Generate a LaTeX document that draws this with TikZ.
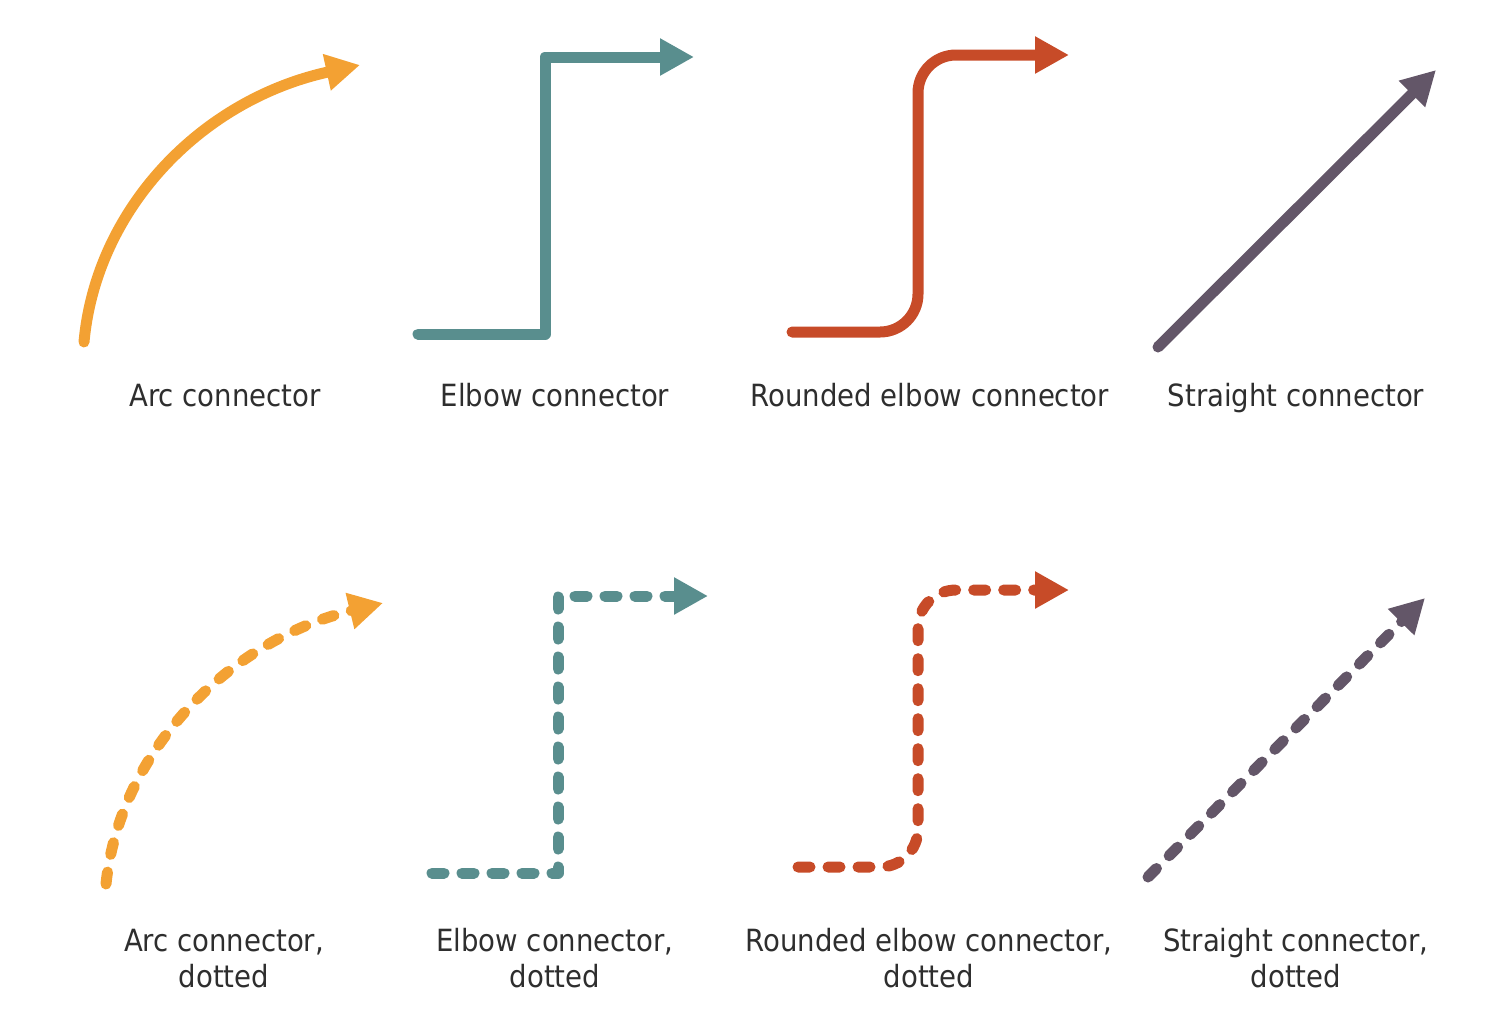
\documentclass[tikz,border=0pt]{standalone}
\usepackage{fontspec}
\setmainfont{DejaVu Sans Condensed}
\usepackage{xcolor}
\definecolor{arcorange}{RGB}{243,161,51}
\definecolor{elbowteal}{RGB}{89,142,142}
\definecolor{roundred}{RGB}{199,75,40}
\definecolor{straightgrey}{RGB}{99,86,104}
\usetikzlibrary{arrows.meta}
\tikzset{
    conn/.style={line width=5.5pt, line cap=round, line join=round,
        -{Triangle[length=17pt, width=17.5pt]}},
    dotconn/.style={conn, dash pattern=on 6pt off 9pt},
    caption/.style={align=center, anchor=base, inner sep=0pt,
        font=\fontsize{15.3}{18}\selectfont, text=black!82}
}

\begin{document}
\begin{tikzpicture}[x=0.5pt, y=-0.5pt]
    \useasboundingbox (0,0) rectangle (1500,1014);

    % end points, top row
    \coordinate (arc-s) at (84,342);
    \coordinate (arc-e) at (360,65);
    \coordinate (elb-s) at (418,334);
    \coordinate (elb-m) at (545,57);
    \coordinate (elb-e) at (694,57);
    \coordinate (rnd-s) at (792,332);
    \coordinate (rnd-m) at (918,55);
    \coordinate (rnd-e) at (1069,55);
    \coordinate (str-s) at (1158,347);
    \coordinate (str-e) at (1436,70);

    % end points, bottom row
    \coordinate (darc-s) at (106,884);
    \coordinate (darc-e) at (383,603);
    \coordinate (delb-s) at (432,873);
    \coordinate (delb-m) at (558,596);
    \coordinate (delb-e) at (708,596);
    \coordinate (drnd-s) at (798,867);
    \coordinate (drnd-m) at (918,590);
    \coordinate (drnd-e) at (1069,590);
    \coordinate (dstr-s) at (1148,877);
    \coordinate (dstr-e) at (1425,598);

    \draw[conn, arcorange] (arc-s) .. controls (96,210) and (200,100) .. (arc-e);
    \draw[conn, elbowteal] (elb-s) -| (elb-m) -- (elb-e);
    \draw[conn, roundred, rounded corners=19pt] (rnd-s) -| (rnd-m) -- (rnd-e);
    \draw[conn, straightgrey] (str-s) -- (str-e);

    \draw[dotconn, arcorange] (darc-s) .. controls (120,750) and (230,640) .. (darc-e);
    \draw[dotconn, elbowteal] (delb-s) -| (delb-m) -- (delb-e);
    \draw[dotconn, roundred, rounded corners=19pt] (drnd-s) -| (drnd-m) -- (drnd-e);
    \draw[dotconn, straightgrey] (dstr-s) -- (dstr-e);

    \node[caption] (arc-lbl) at (225,406) {Arc connector};
    \node[caption] (elb-lbl) at (555,406) {Elbow connector};
    \node[caption] (rnd-lbl) at (930,406) {Rounded elbow connector};
    \node[caption] (str-lbl) at (1296,406) {Straight connector};

    % base is the second line here
    \node[caption] (darc-lbl) at (224,987) {Arc connector,\\dotted};
    \node[caption] (delb-lbl) at (555,987) {Elbow connector,\\dotted};
    \node[caption] (drnd-lbl) at (929,987) {Rounded elbow connector,\\dotted};
    \node[caption] (dstr-lbl) at (1296,987) {Straight connector,\\dotted};
\end{tikzpicture}
\end{document}
